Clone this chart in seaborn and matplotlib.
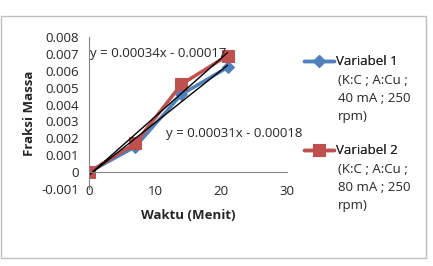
import matplotlib
matplotlib.use("Agg")
import matplotlib.pyplot as plt
import seaborn as sns
import numpy as np
import pandas as pd
from matplotlib.patches import Rectangle

# data
waktu = [0, 7, 14, 21]
var1 = [0.0, 0.0015, 0.0046, 0.0062]
var2 = [0.0, 0.0017, 0.0052, 0.0069]
names = ["Variabel 1", "Variabel 2"]
details = [["(K:C ; A:Cu ;", "40 mA ; 250", "rpm)"],
           ["(K:C ; A:Cu ;", "80 mA ; 250", "rpm)"]]
eq1 = "y = 0.00031x - 0.00018"
eq2 = "y = 0.00034x - 0.00017"
yticks = [-0.001, 0, 0.001, 0.002, 0.003, 0.004, 0.005, 0.006, 0.007, 0.008]
xticks = [0, 10, 20, 30]

sns.set_style("white")
plt.rcParams['font.family'] = ['Open Sans', 'DejaVu Sans']
FS = 9.5

fig = plt.figure(figsize=(4.33, 2.66), dpi=100)
ax = fig.add_axes([89/433, 1-189/266, (287-89)/433, (189-37)/266])

df1 = pd.DataFrame({"x": waktu, "y": var1})
df2 = pd.DataFrame({"x": waktu, "y": var2})
sns.lineplot(data=df1, x="x", y="y", ax=ax, color="#4F81BD", lw=2.5,
             marker="D", markersize=6, markeredgecolor="#4F81BD", label=names[0])
sns.lineplot(data=df2, x="x", y="y", ax=ax, color="#C0504D", lw=2.5,
             marker="s", markersize=9, markeredgecolor="#C0504D", label=names[1])

# linear trendlines
for ys in (var1, var2):
    m, c = np.polyfit(waktu, ys, 1)
    xs = np.array([waktu[0], waktu[-1]])
    ax.plot(xs, m*xs + c, color="black", lw=1)

ax.set_xlim(0, 30)
ax.set_ylim(-0.001, 0.008)
ax.set_xticks(xticks)
ax.set_yticks(yticks)
ax.set_yticklabels(["0" if v == 0 else f"{v:.3f}" for v in yticks])
for s in ("top", "right"):
    ax.spines[s].set_visible(False)
ax.spines["bottom"].set_position(("data", 0))
for s in ("left", "bottom"):
    ax.spines[s].set_color("#868686")
    ax.spines[s].set_linewidth(0.8)
ax.tick_params(axis="both", direction="out", length=4, color="#868686",
               labelsize=FS)
ax.tick_params(axis="x", pad=5)
ax.tick_params(axis="y", pad=3)

ax.set_xlabel("Waktu (Menit)", fontsize=FS, fontweight="bold")
ax.set_ylabel("Fraksi Massa", fontsize=FS, fontweight="bold", labelpad=4)
ax.xaxis.set_label_coords(0.5, -0.13)

ax.text(0.2, 0.0070, eq2, fontsize=FS, va="center", ha="left")
ax.text(11.6, 0.00226, eq1, fontsize=FS, va="center", ha="left")

ax.get_legend().remove()
h, l = ax.get_legend_handles_labels()
for i, top in enumerate([62, 151]):
    leg = fig.legend([h[i]], [l[i]], loc="center left",
                     bbox_to_anchor=(304/433, 1-top/266), frameon=False,
                     fontsize=FS, handlelength=2.3, handletextpad=0.15,
                     borderpad=0, borderaxespad=0)
    fig.add_artist(leg)
    for k, line in enumerate(details[i]):
        fig.text(338/433, 1-(top + 18.3*(k+1))/266, line, fontsize=FS,
                 va="center", ha="left")

fig.patches.append(Rectangle((1/433, 1-258/266), 425/433, 242/266,
                             transform=fig.transFigure, fill=False,
                             edgecolor="#BFBFBF", lw=1))

fig.savefig("out.png", dpi=100)
